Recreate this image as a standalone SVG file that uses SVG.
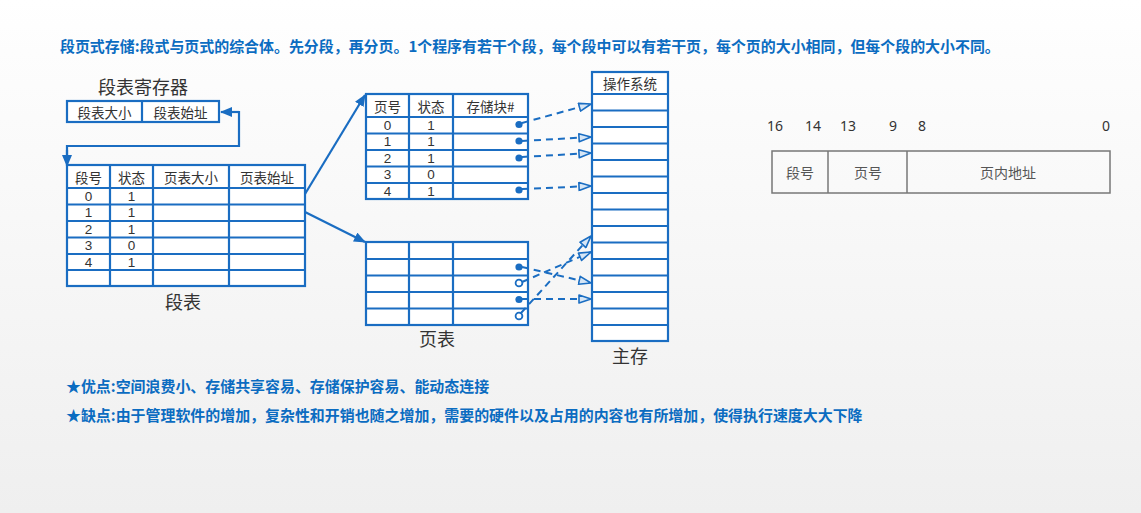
<svg xmlns="http://www.w3.org/2000/svg" width="1141" height="513" viewBox="0 0 1141 513">
<defs>
<linearGradient id="bg" x1="0" y1="0" x2="0" y2="1">
<stop offset="0" stop-color="#ffffff"/>
<stop offset="0.1" stop-color="#fdfdfd"/>
<stop offset="1" stop-color="#efefef"/>
</linearGradient>
<marker id="ah" markerWidth="12" markerHeight="10" refX="11" refY="5" orient="auto" markerUnits="userSpaceOnUse">
<path d="M0,0 L12,5 L0,10 Z" fill="#1a6dc2"/>
</marker>
<marker id="ahd" markerWidth="14" markerHeight="10" refX="13" refY="5" orient="auto" markerUnits="userSpaceOnUse">
<path d="M1,1 L13,5 L1,9 Z" fill="#d6e6f6" stroke="#1a6dc2" stroke-width="1.6" stroke-linejoin="round"/>
</marker>
</defs>
<style>
.ln{fill:none;stroke:#1a6dc2;stroke-width:2.2}
.tb{fill:#ffffff;stroke:#1a6dc2;stroke-width:2.2}
.t{font-family:"Noto Sans CJK SC","Noto Sans",sans-serif;fill:#333;text-anchor:middle;dominant-baseline:central}
.c{font-size:13.5px}
.big{font-size:18px}
.d{font-family:"Liberation Sans","Noto Sans",sans-serif;font-size:13.5px;fill:#333;text-anchor:middle;dominant-baseline:central}
.blue{font-family:"Noto Sans CJK SC","Noto Sans",sans-serif;font-weight:bold;fill:#0b6cc1;font-size:14.95px}
.sol{fill:none;stroke:#1a6dc2;stroke-width:2.2;marker-end:url(#ah)}
.dsh{fill:none;stroke:#1a6dc2;stroke-width:2;stroke-dasharray:7 5;marker-end:url(#ahd)}
.fd{fill:#1a6dc2}
.hd{fill:#ffffff;stroke:#1a6dc2;stroke-width:1.8}
.ag{fill:none;stroke:#777;stroke-width:1.5}
.at{font-family:"Noto Sans CJK SC","Noto Sans",sans-serif;font-size:14px;fill:#555;text-anchor:middle;dominant-baseline:central}
.an{font-family:"Noto Sans","Liberation Sans",sans-serif;font-size:14px;fill:#333;text-anchor:middle;dominant-baseline:central}
</style>
<rect x="0" y="0" width="1141" height="513" fill="url(#bg)"/>

<text id="title" class="blue" x="60" y="52">段页式存储:段式与页式的综合体。先分段，再分页。1个程序有若干个段，每个段中可以有若干页，每个页的大小相同，但每个段的大小不同。</text>

<g id="seg-register">
<text class="t big" x="143" y="86">段表寄存器</text>
<rect class="tb" x="67" y="101" width="152" height="21"/>
<line class="ln" x1="142" y1="101" x2="142" y2="122"/>
<text class="t c" x="104.5" y="111.5">段表大小</text>
<text class="t c" x="180.5" y="111.5">段表始址</text>
</g>

<g id="seg-table">
<rect class="tb" x="67" y="165" width="238" height="121"/>
<path class="ln" d="M67,188H305M67,204.5H305M67,221H305M67,237.5H305M67,254H305M67,270H305M110,165V286M153,165V286M229,165V286"/>
<text class="t c" x="88.5" y="176.5">段号</text>
<text class="t c" x="131.5" y="176.5">状态</text>
<text class="t c" x="191" y="176.5">页表大小</text>
<text class="t c" x="267" y="176.5">页表始址</text>
<text class="d" x="88.5" y="196">0</text><text class="d" x="131.5" y="196">1</text>
<text class="d" x="88.5" y="212.5">1</text><text class="d" x="131.5" y="212.5">1</text>
<text class="d" x="88.5" y="229">2</text><text class="d" x="131.5" y="229">1</text>
<text class="d" x="88.5" y="245.5">3</text><text class="d" x="131.5" y="245.5">0</text>
<text class="d" x="88.5" y="262">4</text><text class="d" x="131.5" y="262">1</text>
<text class="t big" x="183" y="301">段表</text>
</g>

<g id="page-table-1">
<rect class="tb" x="366" y="94" width="162" height="105"/>
<path class="ln" d="M366,117H528M366,133.5H528M366,150H528M366,166.5H528M366,183H528M409,94V199M453,94V199"/>
<text class="t c" x="387.5" y="105.5">页号</text>
<text class="t c" x="431" y="105.5">状态</text>
<text class="t c" x="490.5" y="105.5">存储块#</text>
<text class="d" x="387.5" y="125">0</text><text class="d" x="431" y="125">1</text>
<text class="d" x="387.5" y="141.5">1</text><text class="d" x="431" y="141.5">1</text>
<text class="d" x="387.5" y="158">2</text><text class="d" x="431" y="158">1</text>
<text class="d" x="387.5" y="174.5">3</text><text class="d" x="431" y="174.5">0</text>
<text class="d" x="387.5" y="191">4</text><text class="d" x="431" y="191">1</text>
</g>

<g id="page-table-2">
<rect class="tb" x="366" y="242" width="162" height="83"/>
<path class="ln" d="M366,259H528M366,275.5H528M366,292H528M366,308.5H528M409,242V325M453,242V325"/>
<text class="t big" x="437" y="338">页表</text>
</g>

<g id="main-memory">
<rect class="tb" x="592" y="72" width="76" height="269"/>
<path class="ln" d="M592,94H668M592,110.5H668M592,127H668M592,143.5H668M592,160H668M592,176.5H668M592,193H668M592,209.5H668M592,226H668M592,242.5H668M592,259H668M592,275.5H668M592,292H668M592,308.5H668M592,325H668"/>
<text class="t c" x="630" y="83">操作系统</text>
<text class="t big" x="630" y="355">主存</text>
</g>

<g id="address-format">
<text class="an" x="775" y="125">16</text>
<text class="an" x="813" y="125">14</text>
<text class="an" x="848" y="125">13</text>
<text class="an" x="893" y="125">9</text>
<text class="an" x="922" y="125">8</text>
<text class="an" x="1106" y="125">0</text>
<rect class="ag" x="772" y="151" width="338" height="42"/>
<line class="ag" x1="828" y1="151" x2="828" y2="193"/>
<line class="ag" x1="907" y1="151" x2="907" y2="193"/>
<text class="at" x="800" y="172">段号</text>
<text class="at" x="868" y="172">页号</text>
<text class="at" x="1008" y="172">页内地址</text>
</g>

<g id="connectors">
<path class="sol" d="M239,112H221" />
<path class="ln" d="M221,112H239V146H67V158"/>
<path class="sol" d="M67,150V166"/>
<path class="sol" d="M305,194L365,95"/>
<path class="sol" d="M305,212L365,242"/>
<path class="dsh" d="M522,123L591,104"/>
<path class="dsh" d="M522,141L591,137"/>
<path class="dsh" d="M522,157L591,153"/>
<path class="dsh" d="M522,189L591,186"/>
<path class="dsh" d="M522,267L591,283"/>
<path class="dsh" d="M522,282L591,252"/>
<path class="dsh" d="M522,299L591,299"/>
<path class="dsh" d="M521,313L591,236"/>
<circle class="fd" cx="519" cy="124.5" r="3.6"/>
<circle class="fd" cx="519" cy="141" r="3.6"/>
<circle class="fd" cx="519" cy="158" r="3.6"/>
<circle class="fd" cx="519" cy="190" r="3.6"/>
<circle class="fd" cx="519" cy="267" r="3.6"/>
<circle class="hd" cx="519" cy="283" r="3.4"/>
<circle class="fd" cx="519" cy="299.5" r="3.6"/>
<circle class="hd" cx="519" cy="316" r="3.4"/>
</g>

<text id="pros" class="blue" x="66" y="392">★优点:空间浪费小、存储共享容易、存储保护容易、能动态连接</text>
<text id="cons" class="blue" x="66" y="421">★缺点:由于管理软件的增加，复杂性和开销也随之增加，需要的硬件以及占用的内容也有所增加，使得执行速度大大下降</text>
</svg>
